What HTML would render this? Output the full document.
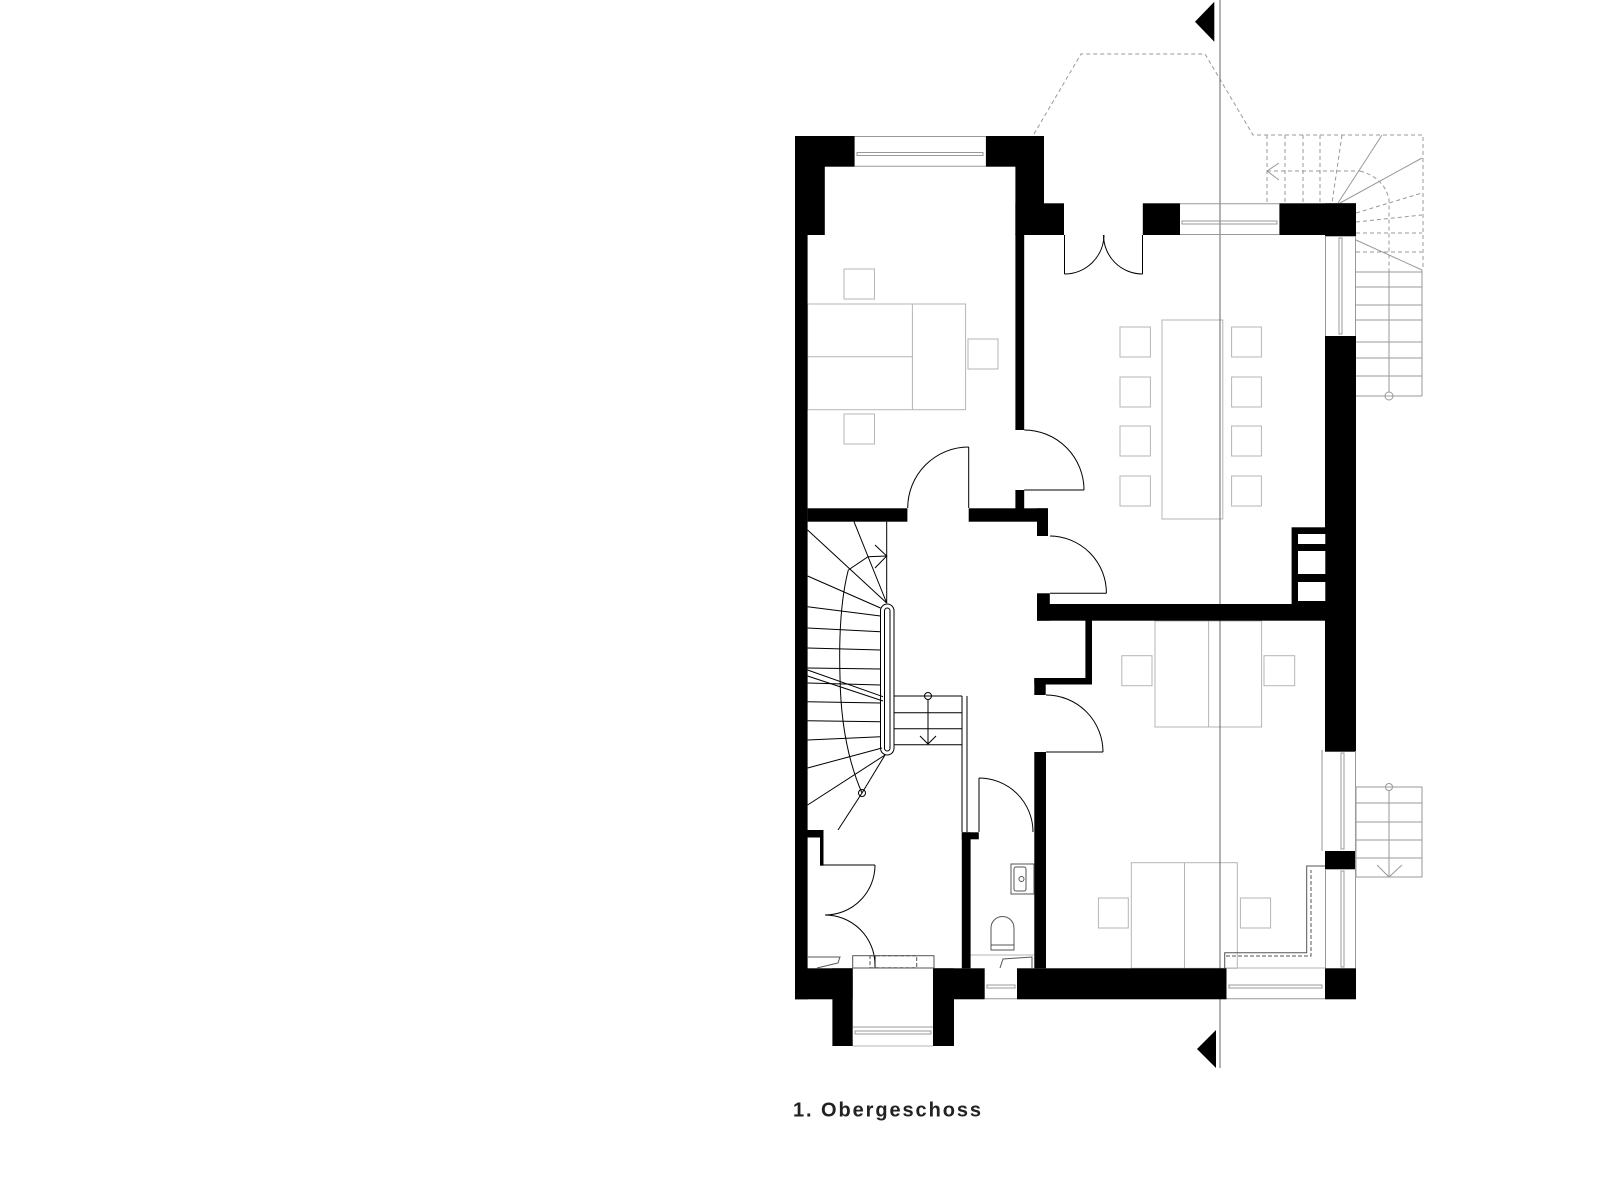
<!DOCTYPE html>
<html><head><meta charset="utf-8"><style>
html,body{margin:0;padding:0;background:#fff;}
svg{display:block;}
</style></head><body>
<svg width="1600" height="1200" viewBox="0 0 1600 1200" xmlns="http://www.w3.org/2000/svg">
<rect width="1600" height="1200" fill="#fff"/>

<!-- dashed outlines top -->
<g fill="none" stroke="#999" stroke-width="1" stroke-dasharray="4,3">
  <polyline points="1034,134 1081,54 1205,54 1253,135 1423,135 1423,270"/>
  <line x1="1267" y1="135" x2="1267" y2="203"/>
  <line x1="1285" y1="135" x2="1285" y2="203"/>
  <line x1="1303" y1="135" x2="1303" y2="203"/>
  <line x1="1320" y1="135" x2="1320" y2="203"/>
  <line x1="1342" y1="135" x2="1332" y2="203"/>
  <line x1="1267" y1="171" x2="1360" y2="171"/>
  <path d="M1360,171 Q1385,178 1389,200 L1389,270"/>
  <line x1="1356" y1="213" x2="1422" y2="193"/>
  <line x1="1356" y1="222" x2="1422" y2="215"/>
  <line x1="1356" y1="233" x2="1422" y2="233"/>
  <line x1="1356" y1="252" x2="1422" y2="252"/>
</g>
<g fill="none" stroke="#999" stroke-width="1">
  <line x1="1267" y1="171" x2="1279" y2="163"/>
  <line x1="1267" y1="171" x2="1279" y2="180"/>
  <line x1="1338" y1="203" x2="1382" y2="135"/>
  <line x1="1340" y1="203" x2="1422" y2="158"/>
  <line x1="1356" y1="240" x2="1422" y2="270"/>
  <line x1="1356" y1="272" x2="1422" y2="272"/>
  <line x1="1356" y1="287" x2="1422" y2="287"/>
  <line x1="1356" y1="305" x2="1422" y2="305"/>
  <line x1="1356" y1="320" x2="1422" y2="320"/>
  <line x1="1356" y1="342" x2="1422" y2="342"/>
  <line x1="1356" y1="358" x2="1422" y2="358"/>
  <line x1="1356" y1="376" x2="1422" y2="376"/>
  <line x1="1356" y1="396" x2="1422" y2="396"/>
  <line x1="1422" y1="270" x2="1422" y2="396"/>
  <line x1="1389" y1="270" x2="1389" y2="392"/>
  <circle cx="1389" cy="396" r="4"/>
  <!-- lower outer stair -->
  <rect x="1356" y="787" width="66" height="90"/>
  <line x1="1356" y1="803" x2="1422" y2="803"/>
  <line x1="1356" y1="822" x2="1422" y2="822"/>
  <line x1="1356" y1="840" x2="1422" y2="840"/>
  <line x1="1356" y1="858" x2="1422" y2="858"/>
  <circle cx="1389" cy="787" r="3.5"/>
  <line x1="1389" y1="790" x2="1389" y2="877"/>
  <polyline points="1377,865 1389,877 1402,865"/>
</g>

<!-- furniture gray -->
<g fill="none" stroke="#b5b5b5" stroke-width="1">
  <rect x="844" y="269" width="30.5" height="30"/>
  <rect x="807.6" y="304" width="158" height="105.7"/>
  <line x1="912.4" y1="304" x2="912.4" y2="409.7"/>
  <line x1="807.6" y1="356.7" x2="912.4" y2="356.7"/>
  <rect x="968" y="339" width="30" height="30"/>
  <rect x="844" y="414" width="30.5" height="30"/>
  <rect x="1162" y="320" width="60.8" height="199"/>
  <rect x="1120" y="327" width="30.4" height="30"/>
  <rect x="1120" y="377" width="30.4" height="30"/>
  <rect x="1120" y="426" width="30.4" height="30"/>
  <rect x="1120" y="476" width="30.4" height="30"/>
  <rect x="1231.6" y="327" width="29.8" height="30"/>
  <rect x="1231.6" y="377" width="29.8" height="30"/>
  <rect x="1231.6" y="426" width="29.8" height="30"/>
  <rect x="1231.6" y="476" width="29.8" height="30"/>
  <rect x="1155" y="621" width="106.6" height="106"/>
  <line x1="1208.6" y1="621" x2="1208.6" y2="727"/>
  <rect x="1121.8" y="655.7" width="30.2" height="30"/>
  <rect x="1264" y="655.7" width="30.7" height="30"/>
  <rect x="1131.3" y="862.7" width="106" height="105.6"/>
  <line x1="1184.5" y1="862.7" x2="1184.5" y2="968.3"/>
  <rect x="1098.4" y="898" width="29.9" height="30"/>
  <rect x="1240.4" y="898" width="30.2" height="30"/>
  <line x1="1226" y1="968" x2="1325" y2="968"/>
  <line x1="967" y1="955" x2="1034" y2="955"/>
  <line x1="852.7" y1="1046" x2="933" y2="1046"/>
</g>

<!-- section line -->
<line x1="1220" y1="0" x2="1220" y2="1068" stroke="#666" stroke-width="1"/>
<polygon points="1195,21.7 1214.3,1.7 1214.3,41.7" fill="#000"/>
<polygon points="1197,1049 1216,1030 1216,1068" fill="#000"/>

<!-- walls -->
<g fill="#000">
  <rect x="795" y="136" width="12.6" height="863.3"/>
  <rect x="795" y="136" width="59.6" height="30.7"/>
  <rect x="795" y="136" width="29.8" height="99"/>
  <rect x="985.9" y="136" width="58.1" height="30.7"/>
  <rect x="1015.4" y="136" width="28.6" height="99"/>
  <rect x="1015.4" y="203.3" width="48.6" height="31.7"/>
  <rect x="1015.4" y="234" width="8.8" height="196"/>
  <rect x="1015.4" y="490" width="8.8" height="20"/>
  <rect x="1142.8" y="203.3" width="37.2" height="31.7"/>
  <rect x="1279.4" y="203.3" width="76.6" height="31.7"/>
  <rect x="1325" y="203.3" width="31" height="33"/>
  <rect x="1325" y="336" width="31" height="415.7"/>
  <rect x="1325" y="851" width="31" height="18.3"/>
  <rect x="1325" y="968.3" width="31" height="31"/>
  <rect x="807.6" y="508.3" width="99.8" height="13.4"/>
  <rect x="968.7" y="508.3" width="79.3" height="13.4"/>
  <rect x="1037" y="508.3" width="11" height="27.7"/>
  <rect x="1037" y="593.3" width="12.8" height="27.4"/>
  <rect x="1037" y="604" width="319" height="16.7"/>
  <rect x="1291.6" y="527.3" width="33.7" height="77"/>
  <rect x="1085.4" y="620" width="6.6" height="64"/>
  <rect x="1034.3" y="678" width="57.7" height="6.5"/>
  <rect x="1034.3" y="678" width="11.4" height="17"/>
  <rect x="1034.3" y="752" width="11.7" height="216.3"/>
  <rect x="1017" y="968.3" width="209.5" height="31"/>
  <rect x="933" y="968.3" width="51.7" height="31"/>
  <rect x="795" y="968.3" width="57.7" height="31"/>
  <rect x="832.4" y="968.3" width="20.3" height="77.7"/>
  <rect x="933" y="968.3" width="21" height="77.7"/>
  <rect x="961.8" y="832.3" width="8.8" height="136"/>
  <rect x="961.8" y="832.3" width="17" height="7"/>
  <rect x="807" y="830" width="16" height="7.5"/>
  <rect x="820" y="830" width="3.5" height="35.7"/>
</g>
<g fill="#fff">
  <rect x="1298" y="534" width="27.3" height="10"/>
  <rect x="1298" y="551" width="27.3" height="23"/>
  <rect x="1298" y="582" width="27.3" height="19"/>
</g>

<!-- windows -->
<g fill="none" stroke="#999" stroke-width="1">
  <line x1="854.6" y1="136.5" x2="985.9" y2="136.5"/>
  <line x1="854.6" y1="166.2" x2="985.9" y2="166.2"/>
  <rect x="857" y="152.5" width="126" height="3"/>
  <line x1="1180" y1="203.8" x2="1279.4" y2="203.8"/>
  <line x1="1180" y1="234.5" x2="1279.4" y2="234.5"/>
  <rect x="1182" y="221" width="95" height="3"/>
  <line x1="1325.5" y1="236" x2="1325.5" y2="336"/>
  <line x1="1355.5" y1="236" x2="1355.5" y2="336"/>
  <rect x="1339" y="238" width="3" height="96"/>
  <line x1="1322" y1="750" x2="1322" y2="851"/>
  <line x1="1355.5" y1="751" x2="1355.5" y2="968"/>
  <line x1="1325.5" y1="869" x2="1325.5" y2="968"/>
  <rect x="1341" y="753" width="3" height="96"/>
  <rect x="1341" y="871" width="3" height="96"/>
  <line x1="1226.5" y1="998.8" x2="1325" y2="998.8"/>
  <rect x="1229" y="985" width="93" height="3"/>
  <line x1="984.7" y1="998.8" x2="1017" y2="998.8"/>
  <rect x="987" y="985" width="28" height="3"/>
  <line x1="852.7" y1="1027" x2="933" y2="1027"/>
  <rect x="855" y="1031" width="76" height="3"/>
</g>

<!-- doors & stairs -->
<g fill="none" stroke="#000" stroke-width="1">
  <!-- dining double door -->
  <line x1="1064.5" y1="235" x2="1064.5" y2="274"/>
  <path d="M1064.5,274 A39.5,39.5 0 0 0 1104,235"/>
  <line x1="1142.5" y1="235" x2="1142.5" y2="274"/>
  <path d="M1142.5,274 A39,39 0 0 1 1103.5,235"/>
  <!-- bedroom/dining door -->
  <line x1="1024.2" y1="490" x2="1084" y2="490"/>
  <path d="M1024.2,430 A60,60 0 0 1 1084,490"/>
  <!-- bedroom door -->
  <line x1="968.7" y1="447" x2="968.7" y2="508"/>
  <path d="M968.7,447 A61,61 0 0 0 907.7,508"/>
  <!-- hall-dining door -->
  <line x1="1050" y1="593.3" x2="1106.4" y2="593.3"/>
  <path d="M1050,536 A57,57 0 0 1 1106.4,593.3"/>
  <!-- hall-bedroom2 door -->
  <line x1="1046" y1="752" x2="1103" y2="752"/>
  <path d="M1046,695 A57,57 0 0 1 1103,752"/>
  <!-- WC door -->
  <line x1="979" y1="778" x2="979" y2="832"/>
  <path d="M979,778 A54,54 0 0 1 1033,832"/>
  <!-- bottom-left double door -->
  <line x1="823" y1="865" x2="875" y2="865"/>
  <path d="M875,865 A50,50 0 0 1 825,915"/>
  <path d="M825,915 A50,50 0 0 1 875,965"/>
  <line x1="875" y1="955" x2="875" y2="968"/>
  <!-- stair -->
  <rect x="880.5" y="604" width="13.5" height="151" rx="6.75"/>
  <rect x="884.5" y="608" width="5.5" height="143" rx="2.75"/>
  <line x1="886.7" y1="521.7" x2="886.7" y2="603"/>
  <line x1="854" y1="521.7" x2="886.7" y2="603"/>
  <line x1="807.6" y1="530" x2="886.7" y2="603"/>
  <line x1="807.6" y1="576" x2="880.5" y2="608"/>
  <line x1="807.6" y1="606.7" x2="880.5" y2="616"/>
  <line x1="807.6" y1="628" x2="880.5" y2="631.7"/>
  <line x1="807.6" y1="648" x2="880.5" y2="650"/>
  <line x1="807.6" y1="668" x2="880.5" y2="669"/>
  <line x1="807.6" y1="683" x2="880.5" y2="685"/>
  <line x1="807.6" y1="701.7" x2="880.5" y2="703"/>
  <line x1="807.6" y1="720.7" x2="880.5" y2="721.7"/>
  <line x1="807.6" y1="740" x2="880.5" y2="736.7"/>
  <line x1="807.6" y1="768" x2="882" y2="748"/>
  <line x1="807.6" y1="805" x2="885" y2="755"/>
  <line x1="807.6" y1="670" x2="883" y2="696.7"/>
  <line x1="807.6" y1="676" x2="883" y2="701"/>
  <polyline points="838,830 862,793 885,755"/>
  <path d="M848.3,570 Q838,610 840,676.7 Q841,745 862,793"/>
  <polyline points="848.3,570 868,556.7 886.7,556"/>
  <polyline points="875,545 886.7,556 875,568"/>
  <circle cx="862" cy="793" r="3.5"/>
  <line x1="894" y1="696" x2="962" y2="696"/>
  <line x1="894" y1="712.7" x2="962" y2="712.7"/>
  <line x1="894" y1="728.7" x2="962" y2="728.7"/>
  <line x1="894" y1="744.7" x2="962" y2="744.7"/>
  <line x1="962" y1="696" x2="962" y2="832"/>
  <line x1="967" y1="696" x2="967" y2="832"/>
  <circle cx="928" cy="696" r="3.5"/>
  <line x1="928" y1="699" x2="928" y2="744"/>
  <polyline points="920,736 928,744 936,736"/>
</g>

<!-- cabinet L and WC -->
<g fill="none" stroke="#555" stroke-width="1">
  <polyline points="1224.7,968 1224.7,952.7 1306.7,952.7 1306.7,866 1325,866"/>
  <polyline points="1226,956 1311,956 1311,870" stroke-dasharray="4,2"/>
  <rect x="1011" y="864" width="23" height="30"/>
  <rect x="1014" y="867" width="12" height="24" rx="2"/>
  <circle cx="1021.5" cy="879" r="2.5"/>
  <path d="M991,950 L991,928 A11.5,11.5 0 0 1 1014,928 L1014,950 Z"/>
  <line x1="991" y1="945" x2="1014" y2="945"/>
  <polyline points="1000,968 1003,959 1032,957 1032,968"/>
  <polyline points="817,968 838,963 840,957 808,957"/>
  <rect x="852.7" y="955.7" width="81.3" height="12.3"/>
  <rect x="870" y="955.7" width="46.7" height="12" stroke-dasharray="4,2"/>
</g>

<text x="793" y="1116.7" font-family="Liberation Sans, sans-serif" font-size="20" font-weight="bold" fill="#222" textLength="188" lengthAdjust="spacing">1. Obergeschoss</text>
</svg>
</body></html>
